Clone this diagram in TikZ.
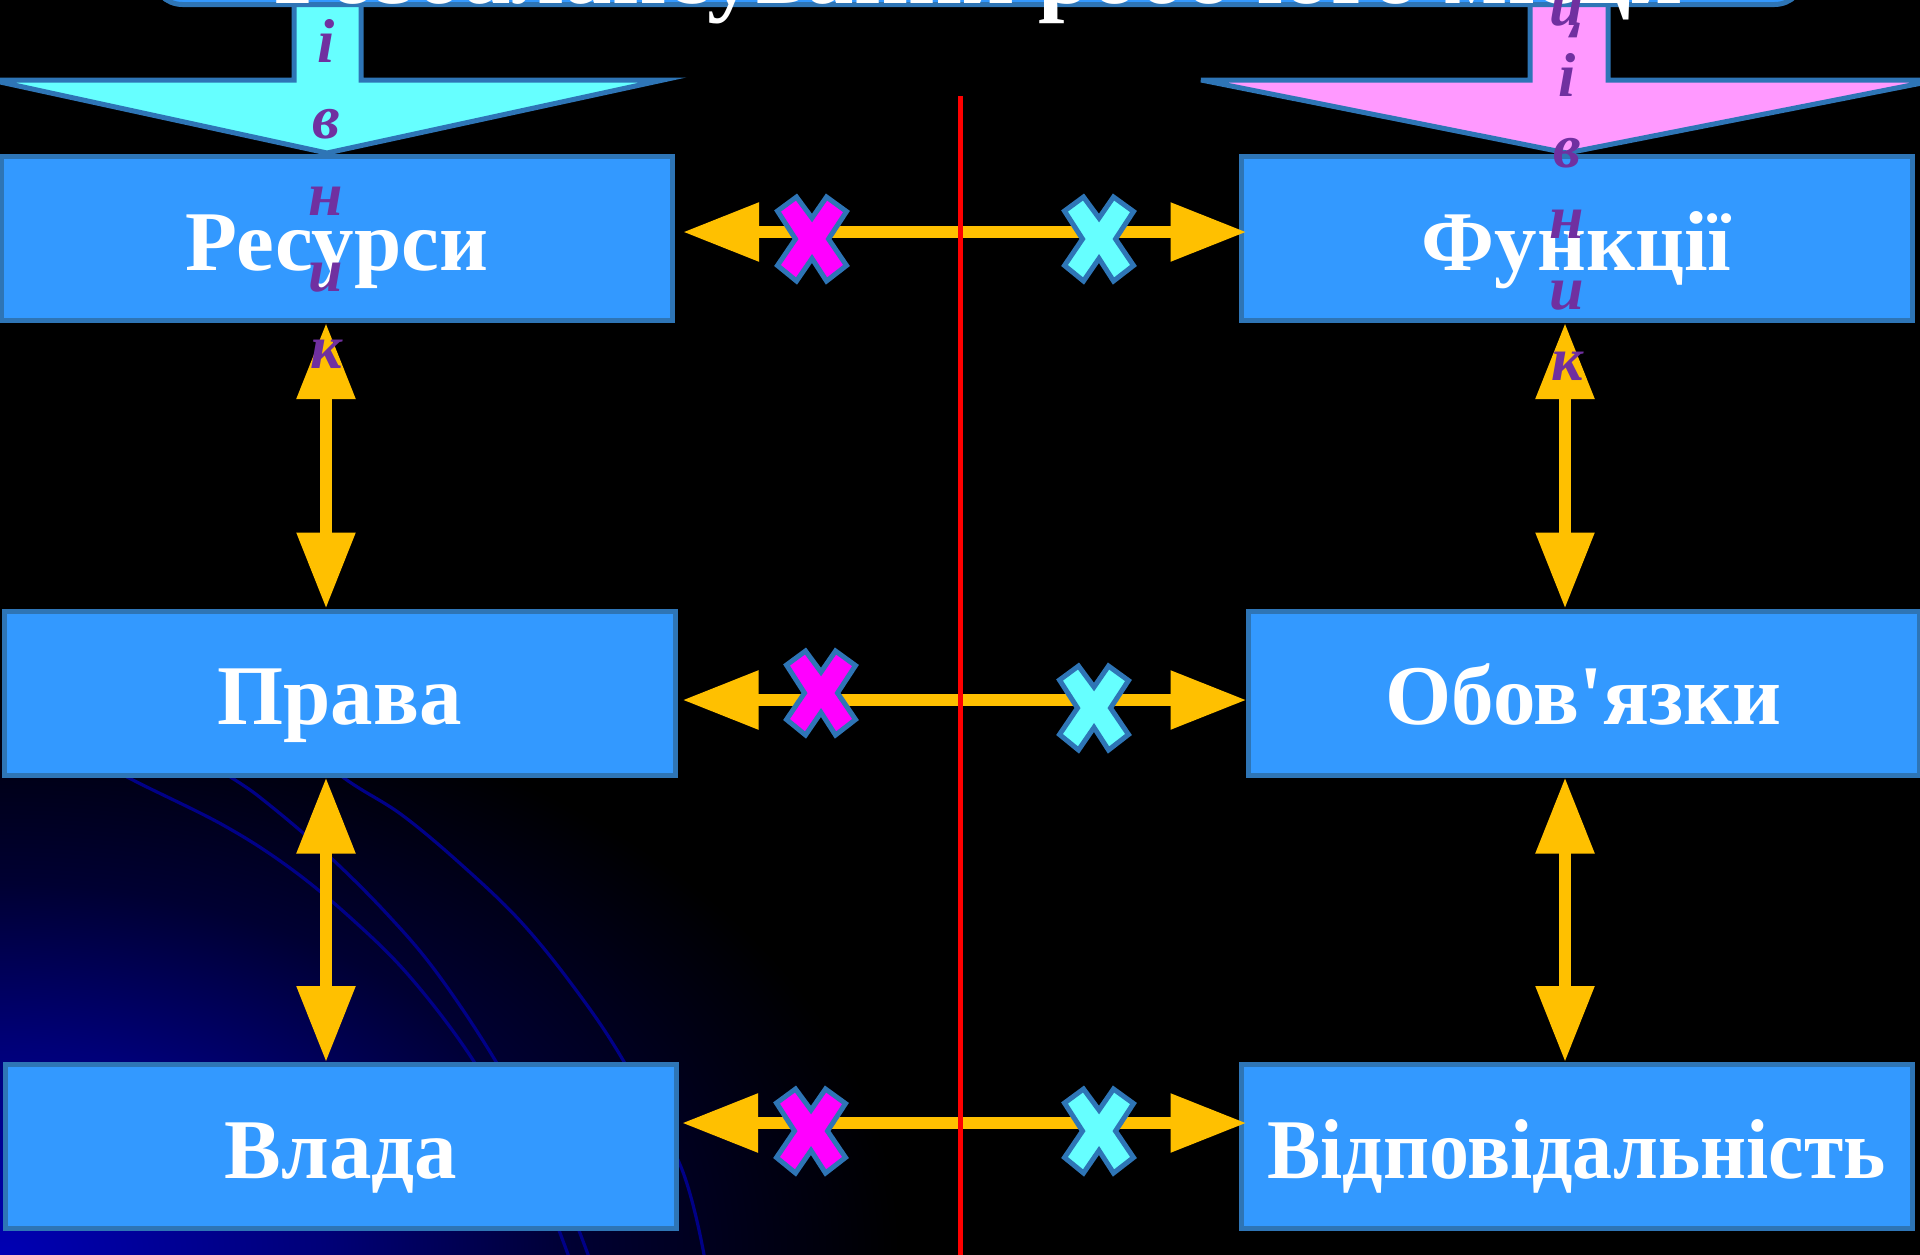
\documentclass[tikz,border=0pt]{standalone}
\usepackage{fontspec}
\usepackage{graphicx}
\setmainfont{Liberation Serif}[Ligatures=TeXOff]
\usetikzlibrary{arrows.meta,calc}
\definecolor{boxfill}{HTML}{3399FF}
\definecolor{boxline}{HTML}{2E75B6}
\definecolor{gold}{HTML}{FFC000}
\definecolor{cyanf}{HTML}{66FFFF}
\definecolor{pinkf}{HTML}{FF99FF}
\definecolor{magf}{HTML}{FF00FF}
\definecolor{purp}{HTML}{7030A0}
\definecolor{navyc}{RGB}{0,0,135}
\definecolor{glowa}{RGB}{0,0,180}
\definecolor{glowb}{RGB}{0,0,120}
\definecolor{glowc}{RGB}{0,0,50}
\pgfdeclareradialshading{glow}{\pgfpoint{0bp}{0bp}}{color(0bp)=(glowa); color(9bp)=(glowb); color(16bp)=(glowc); color(25bp)=(black); color(50bp)=(black)}
\newcommand\crossat[3]{\draw[crossmk, fill=#3, shift={(#1,#2)}] (-34.5,-28) -- (-15.5,-42) -- (0,-21) -- (14.5,-42) -- (34.5,-27.5) -- (16.5,0) -- (34.5,26.5) -- (14.5,42) -- (0,19.5) -- (-15.5,42) -- (-34.5,26.5) -- (-16.5,0) -- cycle;}
\tikzset{
  box/.style={draw=boxline, fill=boxfill, line width=2.5pt, minimum width=335.5pt, minimum height=82pt, inner sep=0pt, text height=31.5pt, text depth=0pt, text=white, font=\fontsize{42.5pt}{50pt}\selectfont\bfseries},
  titlebox/.style={draw=boxline, fill=boxfill, line width=2.5pt, rounded corners=15pt, minimum width=826pt, minimum height=97.5pt, inner sep=0pt, text height=96pt, text depth=0pt, text=white, font=\fontsize{47.5pt}{55pt}\selectfont\bfseries},
  dbl/.style={draw=gold, line width=6pt, {Triangle[length=38pt,width=28pt]}-{Triangle[length=38pt,width=28pt]}},
  bigarrow/.style={draw=boxline, line width=2.5pt, line join=miter},
  crossmk/.style={draw=boxline, line width=2.5pt, line join=miter},
  bgcurve/.style={draw=navyc, line width=1.6pt},
  redline/.style={draw=red, line width=2.5pt},
  vword/.style={text=purp, align=center, inner sep=0pt, anchor=base}
}
\begin{document}
\begin{tikzpicture}[x=0.5pt, y=-0.5pt]
\useasboundingbox (0,0) rectangle (1920,1254);
\fill[black] (-20,-20) rectangle (1940,1274);
% background glow and curves
\begin{scope}
\clip (-20,-20) rectangle (1940,1274);
\shade[shading=glow] (0,1254) ellipse [x radius=900, y radius=580];
\end{scope}
\draw[bgcurve] plot[smooth, tension=0.6] coordinates {(40,730) (129,778) (223,825) (290,868) (353,920) (411,978) (473,1060) (530,1160) (570,1260)};
\draw[bgcurve] plot[smooth, tension=0.6] coordinates {(150,730) (232,778) (272,807) (330,857) (388,915) (437,973) (495,1060) (550,1160) (590,1260)};
\draw[bgcurve] plot[smooth, tension=0.6] coordinates {(270,720) (344,778) (402,815) (464,867) (522,923) (576,990) (623,1060) (681,1167) (705,1260)};
% boxes
\node[box] (res) at (337,238.5) {Ресурси};
\node[box] (prava) at (339.5,693) {Права};
\node[box] (vlada) at (341,1146.5) {Влада};
\node[box] (fun) at (1576.5,238.5) {Функції};
\node[box] (obov) at (1583.5,693) {Обов'язки};
\node[box] (vidp) at (1576.5,1146.5) {\scalebox{0.94}[1]{Відповідальність}};
% vertical arrows
\draw[dbl] ([xshift=-5.5pt]res.south) -- ([xshift=-5.5pt]res.south |- prava.north);
\draw[dbl] ([xshift=-5.5pt]res.south |- prava.south) -- ([xshift=-5.5pt]res.south |- vlada.north);
\draw[dbl] ([xshift=-5.75pt]fun.south) -- ([xshift=-5.75pt]fun.south |- obov.north);
\draw[dbl] ([xshift=-5.75pt]fun.south |- obov.south) -- ([xshift=-5.75pt]fun.south |- vidp.north);
% horizontal arrows
\draw[dbl, shorten <=4pt, shorten >=-4pt] ([yshift=3.25pt]res.east) -- ([yshift=3.25pt]res.east -| fun.west);
\draw[dbl, shorten <=2.5pt, shorten >=-0.5pt] ([yshift=-3.5pt]prava.east) -- ([yshift=-3.5pt]prava.east -| obov.west);
\draw[dbl, shorten <=1.5pt, shorten >=-4pt] ([yshift=11.75pt]vlada.east) -- ([yshift=11.75pt]vlada.east -| vidp.west);
% divider
\draw[redline] (960,96) -- (960,1270);
% crosses
\crossat{812}{239}{magf}
\crossat{1099}{239}{cyanf}
\crossat{821}{693}{magf}
\crossat{1094}{708}{cyanf}
\crossat{811}{1131}{magf}
\crossat{1099}{1131}{cyanf}
% big arrows
\draw[bigarrow, fill=cyanf] (294,-60) -- (294,80) -- (-9,80) -- (327,153) -- (663,80) -- (361,80) -- (361,-60) -- cycle;
\draw[bigarrow, fill=pinkf] (1530,-60) -- (1530,80) -- (1201,80) -- (1567,153) -- (1937,80) -- (1608,80) -- (1608,-60) -- cycle;
% title
\node[titlebox] (title) at (978.5,-93) {Розбалансування робочого місця};
% vertical words
\node[vword, font=\fontsize{31pt}{38.25pt}\selectfont\bfseries\itshape] (ker) at (326,368) {К\\е\\р\\і\\в\\н\\и\\к};
\node[vword, font=\fontsize{31pt}{35.5pt}\selectfont\bfseries\itshape] (prac) at (1567,380) {П\\р\\а\\ц\\і\\в\\н\\и\\к};
\end{tikzpicture}
\end{document}
